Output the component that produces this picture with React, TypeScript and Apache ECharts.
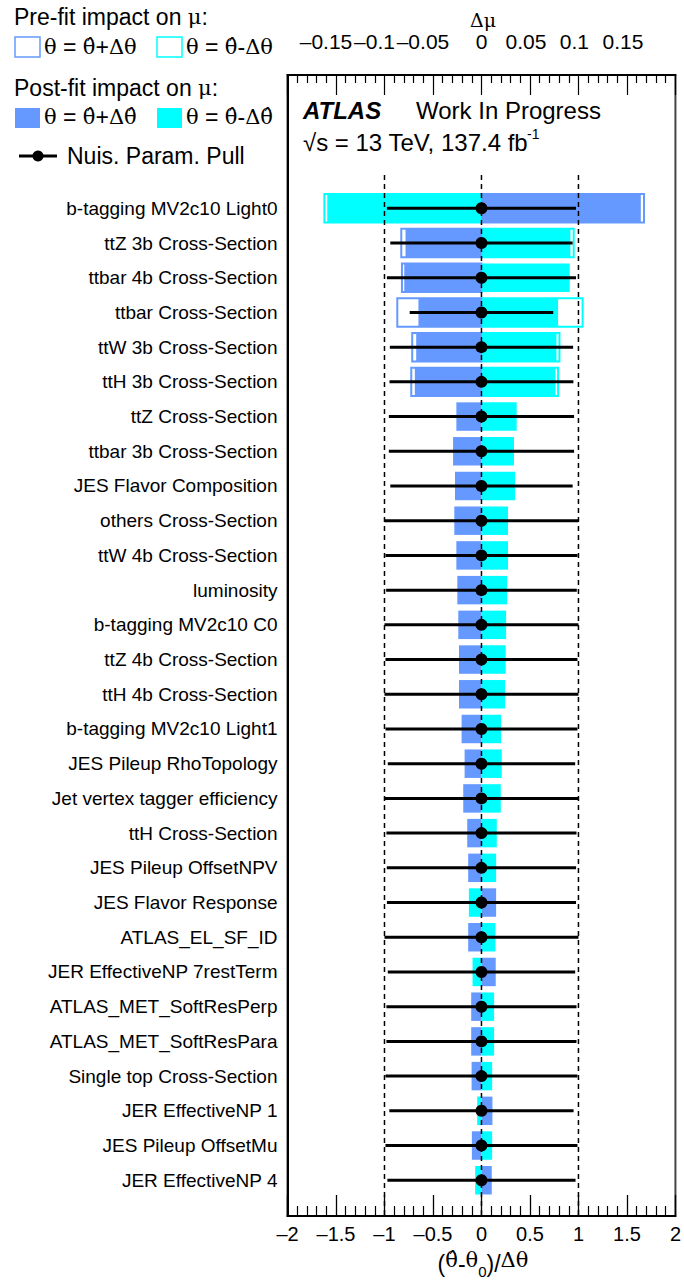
import React, { useEffect, useRef } from "react";
import * as echarts from "echarts";

// ---------------- data ----------------
const parameterNames = [
  "b-tagging MV2c10 Light0",
  "ttZ 3b Cross-Section",
  "ttbar 4b Cross-Section",
  "ttbar Cross-Section",
  "ttW 3b Cross-Section",
  "ttH 3b Cross-Section",
  "ttZ Cross-Section",
  "ttbar 3b Cross-Section",
  "JES Flavor Composition",
  "others Cross-Section",
  "ttW 4b Cross-Section",
  "luminosity",
  "b-tagging MV2c10 C0",
  "ttZ 4b Cross-Section",
  "ttH 4b Cross-Section",
  "b-tagging MV2c10 Light1",
  "JES Pileup RhoTopology",
  "Jet vertex tagger efficiency",
  "ttH Cross-Section",
  "JES Pileup OffsetNPV",
  "JES Flavor Response",
  "ATLAS_EL_SF_ID",
  "JER EffectiveNP 7restTerm",
  "ATLAS_MET_SoftResPerp",
  "ATLAS_MET_SoftResPara",
  "Single top Cross-Section",
  "JER EffectiveNP 1",
  "JES Pileup OffsetMu",
  "JER EffectiveNP 4",
];

// post-fit impact on mu (delta mu), theta = theta_hat + delta theta_hat
const postfitUp = [
  0.1643, -0.0783, -0.0796, -0.065, -0.0673, -0.0687, -0.0259, -0.0293, -0.0273, -0.028,
  -0.0259, -0.0249, -0.0239, -0.0232, -0.0232, -0.0205, -0.0174, -0.0188, -0.0147, -0.0137,
  0.0151, -0.0137, 0.0147, -0.0106, -0.0106, -0.0102, 0.0113, -0.0099, 0.0106,
];
// post-fit impact on mu, theta = theta_hat - delta theta_hat
const postfitDown = [
  -0.159, 0.0917, 0.091, 0.079, 0.0773, 0.0763, 0.0363, 0.0335, 0.0346, 0.0274,
  0.0274, 0.0264, 0.0254, 0.025, 0.0243, 0.0202, 0.0209, 0.0199, 0.0158, 0.0151,
  -0.013, 0.0144, -0.0092, 0.013, 0.013, 0.011, -0.0044, 0.011, -0.0065,
];
// pre-fit impacts (only where visible)
const prefitUp = [
  0.1676, -0.0827, -0.082, -0.0868, -0.0714, -0.0724, null, null, null, null,
  null, null, null, null, null, null, null, null, null, null,
  null, null, null, null, null, null, null, null, null,
];
const prefitDown = [
  -0.162, 0.0951, null, 0.1043, 0.0804, 0.079, null, null, null, null,
  null, null, null, null, null, null, null, null, null, null,
  null, null, null, null, null, null, null, null, null,
];
// nuisance parameter pulls and their errors
const pullValues = [
  0, 0, 0, 0, 0, 0, 0, 0, 0, 0,
  0, 0, 0, 0, 0, 0, 0, 0, 0, 0,
  0, 0, 0, 0, 0, 0, 0, 0, 0,
];
const pullErrors = [
  0.975, 0.94, 0.975, 0.74, 0.945, 0.948, 0.955, 0.955, 0.94, 1.0,
  0.99, 0.983, 1.0, 0.99, 1.0, 0.99, 0.966, 1.0, 0.98, 0.976,
  0.975, 1.0, 0.966, 0.98, 0.98, 0.99, 0.95, 0.99, 0.97,
];
const referenceLines = [-1, 0, 1];

// ---------------- style ----------------
const BLUE = "#6699ff";
const CYAN = "#00ffff";
const SANS = '"Liberation Sans", Arial, Helvetica, sans-serif';
const SERIF = '"DejaVu Serif", "Liberation Serif", serif';
const ROW_HALF = 0.41;
const Y_MIN = -3.84;
const Y_MAX = 29.03;

function rectBetween(api: any, v: number, row: number) {
  const a = api.coord([0, row - ROW_HALF]);
  const b = api.coord([v, row + ROW_HALF]);
  return {
    x: Math.min(a[0], b[0]),
    y: Math.min(a[1], b[1]),
    width: Math.abs(b[0] - a[0]),
    height: Math.abs(b[1] - a[1]),
  };
}

function postfitRender(params: any, api: any) {
  const row = api.value(0);
  const up = api.value(1);
  const down = api.value(2);
  const children: any[] = [];
  if (!isNaN(down)) children.push({ type: "rect", shape: rectBetween(api, down, row), style: { fill: CYAN } });
  if (!isNaN(up)) children.push({ type: "rect", shape: rectBetween(api, up, row), style: { fill: BLUE } });
  return { type: "group", children };
}

function prefitRender(params: any, api: any) {
  const row = api.value(0);
  const up = api.value(1);
  const down = api.value(2);
  const children: any[] = [];
  if (!isNaN(down))
    children.push({ type: "rect", shape: rectBetween(api, down, row), style: { fill: "#fff", stroke: CYAN, lineWidth: 2 } });
  if (!isNaN(up))
    children.push({ type: "rect", shape: rectBetween(api, up, row), style: { fill: "#fff", stroke: BLUE, lineWidth: 2 } });
  return { type: "group", children };
}

function pullRender(params: any, api: any) {
  const v = api.value(0);
  const row = api.value(1);
  const err = api.value(2);
  const idx = params.dataIndex;
  const l = api.coord([v - err, row]);
  const r = api.coord([v + err, row]);
  const c = api.coord([v, row]);
  const edge = api.coord([-2, row]);
  return {
    type: "group",
    children: [
      {
        type: "line",
        shape: { x1: l[0], y1: l[1], x2: r[0], y2: r[1] },
        style: { stroke: "#000", lineWidth: 3 },
      },
      { type: "circle", shape: { cx: c[0], cy: c[1], r: 6 }, style: { fill: "#000" } },
      {
        type: "text",
        x: edge[0] - 10,
        y: edge[1],
        style: {
          text: parameterNames[idx],
          fill: "#000",
          fontSize: 19,
          fontFamily: SANS,
          align: "right",
          verticalAlign: "middle",
          textAlign: "right",
          textVerticalAlign: "middle",
        },
      },
    ],
  };
}

function fmtBottom(v: number) {
  const r = Math.round(v * 100) / 100;
  if (r === 0) return "0";
  return (r < 0 ? "\u2013" : "") + Math.abs(r);
}
function fmtTop(v: number) {
  const r = Math.round(v * 100) / 100;
  if (r === 0) return "{z|0}";
  const s = (r < 0 ? "\u2013" : "") + Math.abs(r);
  return r < 0 ? `{n|${s}}` : `{p|${s}}`;
}

function legendText(x: number, y: number, text: string, size = 23, rich: any = undefined) {
  const style: any = {
    text,
    fill: "#000",
    fontSize: size,
    fontFamily: SANS,
    align: "left",
    verticalAlign: "middle",
    textAlign: "left",
    textVerticalAlign: "middle",
  };
  if (rich) style.rich = rich;
  return { type: "text", x, y, style };
}

const greekRich = { g: { fontFamily: SERIF, fontSize: 21, fill: "#000" } };

export default function App() {
  const ref = useRef<HTMLDivElement>(null);
  useEffect(() => {
    if (!ref.current) return;
    const chart = echarts.init(ref.current, undefined, { renderer: "svg" });
    const rows = parameterNames.map((_, i) => i);
    const option: any = {
      animation: false,
      backgroundColor: "#fff",
      grid: { left: 287.5, top: 75, width: 390, height: 1141, show: true, borderColor: "#444", borderWidth: 2, backgroundColor: "transparent" },
      xAxis: [
        {
          type: "value",
          position: "bottom",
          min: -2,
          max: 2,
          interval: 0.5,
          axisLine: { show: true, onZero: false, lineStyle: { color: "#000", width: 2 } },
          axisTick: { show: true, inside: true, length: 21, lineStyle: { color: "#000", width: 1.3 } },
          minorTick: { show: true, splitNumber: 5, length: 10, lineStyle: { color: "#000", width: 1.2 } },
          splitLine: { show: false },
          axisLabel: { show: true, margin: 8, color: "#000", fontSize: 20, fontFamily: SANS, formatter: fmtBottom },
        },
        {
          type: "value",
          position: "top",
          min: -0.2,
          max: 0.2,
          interval: 0.05,
          axisLine: { show: true, onZero: false, lineStyle: { color: "#000", width: 2 } },
          axisTick: { show: true, inside: true, length: 20, lineStyle: { color: "#000", width: 1.2 } },
          minorTick: { show: true, splitNumber: 5, length: 8, lineStyle: { color: "#000", width: 1.2 } },
          splitLine: { show: false },
          axisLabel: {
            show: true,
            margin: 25,
            showMinLabel: false,
            showMaxLabel: false,
            color: "#000",
            fontSize: 21,
            lineHeight: 17,
            fontFamily: SANS,
            formatter: fmtTop,
            rich: {
              n: { fontSize: 21, lineHeight: 17, fontFamily: SANS, color: "#000", padding: [0, 20, 0, 0] },
              p: { fontSize: 21, lineHeight: 17, fontFamily: SANS, color: "#000", padding: [0, 8, 0, 0] },
              z: { fontSize: 21, lineHeight: 17, fontFamily: SANS, color: "#000" },
            },
          },
        },
      ],
      yAxis: {
        type: "value",
        min: Y_MIN,
        max: Y_MAX,
        inverse: true,
        axisLine: { show: true, onZero: false, lineStyle: { color: "#000", width: 2 } },
        axisTick: { show: false },
        axisLabel: { show: false },
        splitLine: { show: false },
      },
      series: [
        {
          type: "custom",
          name: "prefit",
          coordinateSystem: "cartesian2d",
          xAxisIndex: 1,
          yAxisIndex: 0,
          encode: { x: 1, y: 0 },
          z: 2,
          renderItem: prefitRender,
          data: rows.map((i) => [i, prefitUp[i] ?? "-", prefitDown[i] ?? "-"]),
        },
        {
          type: "custom",
          name: "postfit",
          coordinateSystem: "cartesian2d",
          xAxisIndex: 1,
          yAxisIndex: 0,
          encode: { x: 1, y: 0 },
          z: 3,
          renderItem: postfitRender,
          data: rows.map((i) => [i, postfitUp[i], postfitDown[i]]),
        },
        ...referenceLines.map((x) => ({
          type: "line",
          xAxisIndex: 0,
          yAxisIndex: 0,
          z: 4,
          symbol: "none",
          silent: true,
          lineStyle: { color: "#000", width: 1.5, type: [5, 4] },
          data: [
            [x, -0.96],
            [x, Y_MAX],
          ],
        })),
        {
          type: "custom",
          name: "pull",
          coordinateSystem: "cartesian2d",
          xAxisIndex: 0,
          yAxisIndex: 0,
          encode: { x: 0, y: 1 },
          z: 5,
          renderItem: pullRender,
          data: rows.map((i) => [pullValues[i], i, pullErrors[i]]),
        },
      ],
      graphic: [
        // axis titles
        {
          type: "text",
          x: 483,
          y: 20,
          style: { text: "Δμ", fill: "#000", fontSize: 19, lineHeight: 15, fontFamily: SERIF, align: "center", verticalAlign: "middle", textAlign: "center", textVerticalAlign: "middle" },
        },
        {
          type: "text",
          x: 483,
          y: 1264,
          style: {
            text: "({g|θ̂}-{g|θ}{s|0})/{g|Δθ}",
            fill: "#000",
            fontSize: 23,
            fontFamily: SANS,
            align: "center",
            verticalAlign: "middle",
            textAlign: "center",
            textVerticalAlign: "middle",
            rich: {
              g: { fontFamily: SERIF, fontSize: 21, fill: "#000", verticalAlign: "top" },
              s: { fontFamily: SANS, fontSize: 15, fill: "#000", verticalAlign: "top", padding: [14, 0, 0, 0] },
            },
          },
        },
        // legend
        legendText(14, 17, "Pre-fit impact on {g|μ}:", 23, greekRich),
        { type: "rect", shape: { x: 15, y: 37, width: 25, height: 20 }, style: { fill: "#fff", stroke: BLUE, lineWidth: 1.5 } },
        legendText(44, 47, "{g|θ} = {g|θ̂}+{g|Δθ}", 23, greekRich),
        { type: "rect", shape: { x: 157, y: 37, width: 25, height: 20 }, style: { fill: "#fff", stroke: CYAN, lineWidth: 1.5 } },
        legendText(186, 47, "{g|θ} = {g|θ̂}-{g|Δθ}", 23, greekRich),
        legendText(14, 88, "Post-fit impact on {g|μ}:", 23, greekRich),
        { type: "rect", shape: { x: 15, y: 108, width: 25, height: 20 }, style: { fill: BLUE } },
        legendText(44, 117, "{g|θ} = {g|θ̂}+{g|Δθ̂}", 23, greekRich),
        { type: "rect", shape: { x: 157, y: 108, width: 25, height: 20 }, style: { fill: CYAN } },
        legendText(186, 117, "{g|θ} = {g|θ̂}-{g|Δθ̂}", 23, greekRich),
        { type: "line", shape: { x1: 19, y1: 156, x2: 57, y2: 156 }, style: { stroke: "#000", lineWidth: 3 } },
        { type: "circle", shape: { cx: 38, cy: 156, r: 5.5 }, style: { fill: "#000" } },
        legendText(67, 156, "Nuis. Param. Pull", 23),
        // ATLAS label
        {
          type: "text",
          x: 303,
          y: 110,
          style: { text: "ATLAS", fill: "#000", fontSize: 24, fontWeight: "bold", fontStyle: "italic", fontFamily: SANS, align: "left", verticalAlign: "middle", textAlign: "left", textVerticalAlign: "middle" },
        },
        legendText(416, 110, "Work In Progress", 24),
        legendText(303, 142, "√s = 13 TeV, 137.4 fb", 24),
        legendText(527, 134, "-1", 14),
      ],
    };
    chart.setOption(option);
    return () => chart.dispose();
  }, []);
  return <div ref={ref} style={{ position: "absolute", left: 0, top: 0, width: 684, height: 1281, background: "#fff" }} />;
}
